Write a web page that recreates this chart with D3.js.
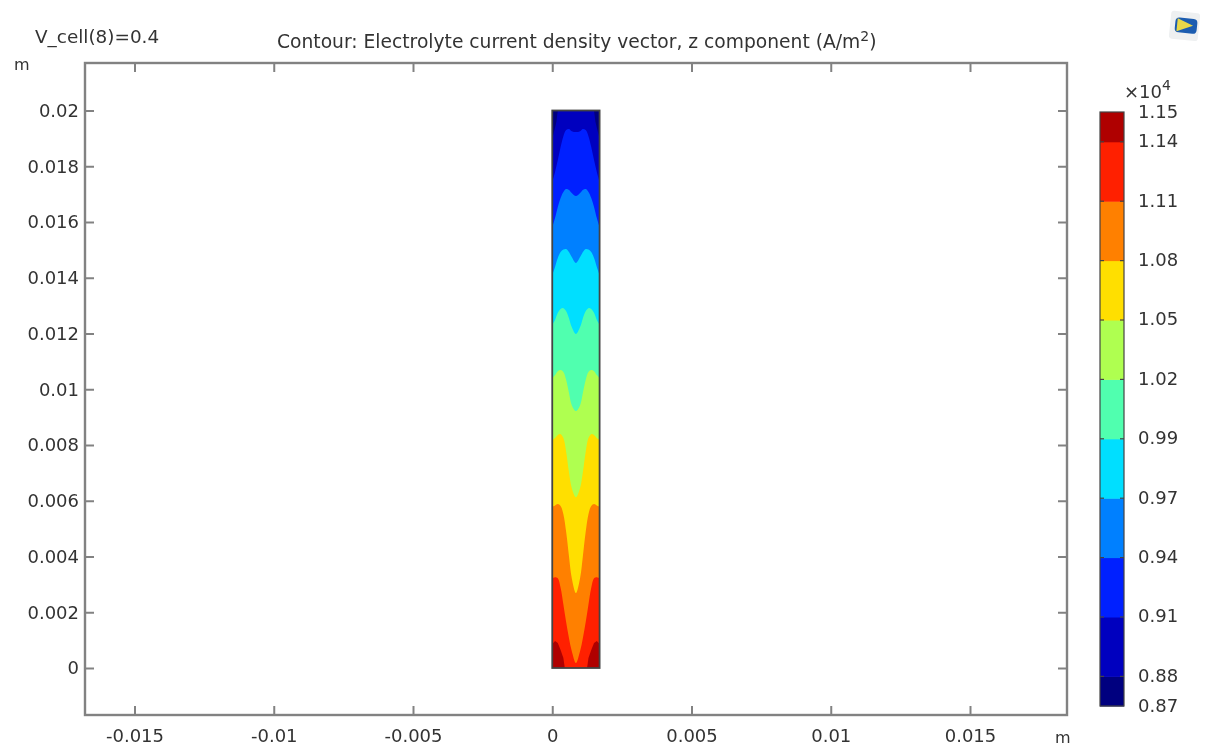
<!DOCTYPE html>
<html>
<head>
<meta charset="utf-8">
<script src="https://cdn.jsdelivr.net/npm/d3@7"></script>
<style>
  body { margin: 0; background: #fff; }
  svg { display: block; filter: blur(0.35px); }
  text { font-family: "DejaVu Sans", sans-serif; fill: #333; }
</style>
</head>
<body>
<script>
// half of the strip, the other half is mirrored around the centre
const sampleX = [0, 0.0001, 0.0002, 0.0003, 0.0004, 0.0005, 0.0006, 0.0007, 0.00085];

// top edge of each contour band, y in metres at each sampleX
const lineBlue = [0.01743, 0.01779, 0.01822, 0.01869, 0.01908, 0.0193, 0.01934, 0.01926, 0.01923];
const lineAzure = [0.01582, 0.01614, 0.01654, 0.01686, 0.01708, 0.01718, 0.01715, 0.01704, 0.01693];
const lineCyan = [0.0141, 0.01439, 0.01471, 0.01492, 0.01501, 0.01503, 0.01492, 0.01474, 0.01453];
const lineSpring = [0.01231, 0.01248, 0.01274, 0.01288, 0.01291, 0.0128, 0.01255, 0.01223, 0.01198];
const lineLime = [0.0104, 0.01051, 0.01065, 0.01069, 0.01062, 0.01033, 0.00987, 0.00943, 0.00922];
const lineYellow = [0.00818, 0.00825, 0.00836, 0.00839, 0.00825, 0.00775, 0.00703, 0.00646, 0.00613];
const lineOrange = [0.00578, 0.00583, 0.00588, 0.00581, 0.00552, 0.00488, 0.00402, 0.00323, 0.00269];
const lineRed = [0.00322, 0.00326, 0.00322, 0.00288, 0.00228, 0.00164, 0.00108, 0.00061, 0.00018];

// coldest to hottest, each one paints over the last
const contourLines = [lineBlue, lineAzure, lineCyan, lineSpring, lineLime, lineYellow, lineOrange, lineRed];

// closed patches in the corners: [x, y] in metres, left side
const cornerHot = [[0, 0], [0, 0.00086], [0.0001, 0.00097], [0.0002, 0.0009], [0.0003, 0.00065], [0.0004, 0.00036], [0.00045, 0]];
const cornerCold = [[0, 0.02], [0.0002, 0.02], [0.00015, 0.0196], [0.00008, 0.0193], [0, 0.019]];

const xTicks = [-0.015, -0.01, -0.005, 0, 0.005, 0.01, 0.015];
const yTicks = [0, 0.002, 0.004, 0.006, 0.008, 0.01, 0.012, 0.014, 0.016, 0.018, 0.02];

const barLevels = [0.8795, 0.908, 0.9365, 0.965, 0.9935, 1.022, 1.0505, 1.079, 1.1075, 1.136];
const barLabels = ["0.88", "0.91", "0.94", "0.97", "0.99", "1.02", "1.05", "1.08", "1.11", "1.14"];
const barMin = 0.8653;
const barMax = 1.1503;

// low to high
const bandColors = ["#00007f", "#0000bf", "#0020ff", "#0080ff", "#00dfff", "#50ffaf", "#afff50", "#ffdf00", "#ff8000", "#ff2000", "#af0000"];

const width = 1206;
const height = 747;
const frame = { left: 85, right: 1067, top: 63, bottom: 715 };
const stripWidth = 0.0017;
const axisColor = "#828282";
const fontSize = "18px";

const x = d3.scaleLinear().domain([-0.015, 0.015]).range([134.5, 970]);
const y = d3.scaleLinear().domain([0, 0.02]).range([668, 110.5]);
const barY = d3.scaleLinear().domain([barMin, barMax]).range([706, 112]);

const svg = d3.select("body").append("svg")
  .attr("width", width)
  .attr("height", height)
  .attr("viewBox", `0 0 ${width} ${height}`);

const defs = svg.append("defs");
defs.append("clipPath").attr("id", "stripClip").append("rect")
  .attr("x", x(0))
  .attr("y", y(0.02))
  .attr("width", x(stripWidth) - x(0))
  .attr("height", y(0) - y(0.02));

// Strip

const strip = svg.append("g").attr("clip-path", "url(#stripClip)");

strip.append("rect")
  .attr("x", x(0))
  .attr("y", y(0.02))
  .attr("width", x(stripWidth) - x(0))
  .attr("height", y(0) - y(0.02))
  .attr("fill", bandColors[1]);

const mirrored = (values) => {
  const left = sampleX.map((d, i) => [d, values[i]]);
  const right = sampleX.slice(0, -1).reverse()
    .map((d, i) => [stripWidth - d, values[sampleX.length - 2 - i]]);
  return left.concat(right);
};

const contourArea = d3.area()
  .x((d) => x(d[0]))
  .y0(y(-0.001))
  .y1((d) => y(d[1]))
  .curve(d3.curveCatmullRom.alpha(0.5));

contourLines.forEach((values, i) => {
  strip.append("path")
    .attr("d", contourArea(mirrored(values)))
    .attr("fill", bandColors[i + 2]);
});

const patchLine = d3.line()
  .x((d) => x(d[0]))
  .y((d) => y(d[1]))
  .curve(d3.curveLinearClosed);

[cornerHot, cornerHot.map((d) => [stripWidth - d[0], d[1]])].forEach((pts) => {
  strip.append("path").attr("d", patchLine(pts)).attr("fill", bandColors[10]);
});
[cornerCold, cornerCold.map((d) => [stripWidth - d[0], d[1]])].forEach((pts) => {
  strip.append("path").attr("d", patchLine(pts)).attr("fill", bandColors[0]);
});

svg.append("rect")
  .attr("x", x(0))
  .attr("y", y(0.02))
  .attr("width", x(stripWidth) - x(0))
  .attr("height", y(0) - y(0.02))
  .attr("fill", "none")
  .attr("stroke", "#444")
  .attr("stroke-width", 1.8);

// Frame and ticks

svg.append("rect")
  .attr("x", frame.left)
  .attr("y", frame.top)
  .attr("width", frame.right - frame.left)
  .attr("height", frame.bottom - frame.top)
  .attr("fill", "none")
  .attr("stroke", axisColor)
  .attr("stroke-width", 2.4);

const styleAxis = (g) => {
  g.select(".domain").remove();
  g.selectAll("line").attr("stroke", axisColor).attr("stroke-width", 2);
  g.selectAll("text").style("font-size", fontSize);
};

const tickText = (d) => String(+d.toFixed(3));

svg.append("g")
  .attr("transform", `translate(0,${frame.bottom})`)
  .call(d3.axisBottom(x).tickValues(xTicks).tickFormat(tickText).tickSizeInner(-9).tickPadding(14))
  .call(styleAxis);

svg.append("g")
  .attr("transform", `translate(0,${frame.top})`)
  .call(d3.axisTop(x).tickValues(xTicks).tickFormat("").tickSizeInner(-9))
  .call(styleAxis);

svg.append("g")
  .attr("transform", `translate(${frame.left},0)`)
  .call(d3.axisLeft(y).tickValues(yTicks).tickFormat(tickText).tickSizeInner(-9).tickPadding(6))
  .call(styleAxis);

svg.append("g")
  .attr("transform", `translate(${frame.right},0)`)
  .call(d3.axisRight(y).tickValues(yTicks).tickFormat("").tickSizeInner(-9))
  .call(styleAxis);

// Colour bar

const barX = 1100;
const barWidth = 24;
const barEdges = [barMin, ...barLevels, barMax];

svg.append("g")
  .selectAll("rect")
  .data(bandColors)
  .enter()
  .append("rect")
  .attr("x", barX)
  .attr("width", barWidth)
  .attr("y", (_, i) => barY(barEdges[i + 1]))
  .attr("height", (_, i) => barY(barEdges[i]) - barY(barEdges[i + 1]) + 0.5)
  .attr("fill", (d) => d);

svg.append("rect")
  .attr("x", barX)
  .attr("y", barY(barMax))
  .attr("width", barWidth)
  .attr("height", barY(barMin) - barY(barMax))
  .attr("fill", "none")
  .attr("stroke", "#444")
  .attr("stroke-width", 1.2);

const barTicks = svg.append("g").selectAll("g").data(barLevels).enter().append("g");
barTicks.append("line")
  .attr("x1", barX).attr("x2", barX + 4)
  .attr("y1", (d) => barY(d)).attr("y2", (d) => barY(d))
  .attr("stroke", "#444").attr("stroke-width", 1.2);
barTicks.append("line")
  .attr("x1", barX + barWidth - 4).attr("x2", barX + barWidth)
  .attr("y1", (d) => barY(d)).attr("y2", (d) => barY(d))
  .attr("stroke", "#444").attr("stroke-width", 1.2);

const barTextX = barX + barWidth + 14;
svg.append("g").selectAll("text").data(barLabels).enter().append("text")
  .attr("x", barTextX)
  .attr("y", (_, i) => barY(barLevels[i]))
  .attr("dy", "0.3em")
  .style("font-size", fontSize)
  .text((d) => d);

svg.append("text").attr("x", barTextX).attr("y", barY(barMax)).attr("dy", "0.35em").style("font-size", fontSize).text("1.15");
svg.append("text").attr("x", barTextX).attr("y", barY(barMin)).attr("dy", "0.35em").style("font-size", fontSize).text("0.87");

const multiplier = svg.append("text").attr("x", 1124).attr("y", 98).style("font-size", fontSize);
multiplier.append("tspan").text("×10");
multiplier.append("tspan").attr("dy", -8).style("font-size", "14px").text("4");

// Titles and units

svg.append("text").attr("x", 35).attr("y", 43).style("font-size", "18.4px").text("V_cell(8)=0.4");

const title = svg.append("text").attr("x", 277).attr("y", 48).style("font-size", "18.7px");
title.append("tspan").text("Contour: Electrolyte current density vector, z component (A/m");
title.append("tspan").attr("dy", -7).style("font-size", "14px").text("2");
title.append("tspan").attr("dy", 7).text(")");

svg.append("text").attr("x", 14).attr("y", 70).style("font-size", "16px").text("m");
svg.append("text").attr("x", 1055).attr("y", 743).style("font-size", "16px").text("m");

// Logo

const logo = svg.append("g").attr("transform", "translate(1185,26) rotate(6)");
logo.append("rect").attr("x", -15).attr("y", -14).attr("width", 29).attr("height", 28).attr("rx", 3).attr("fill", "#eef0f1");
logo.append("rect").attr("x", -10).attr("y", -8).attr("width", 22).attr("height", 15).attr("rx", 4).attr("fill", "#1b5cb0");
logo.append("path").attr("d", "M-8,-7L8,-1L-8,6Z").attr("fill", "#e8d84a");
</script>
</body>
</html>
